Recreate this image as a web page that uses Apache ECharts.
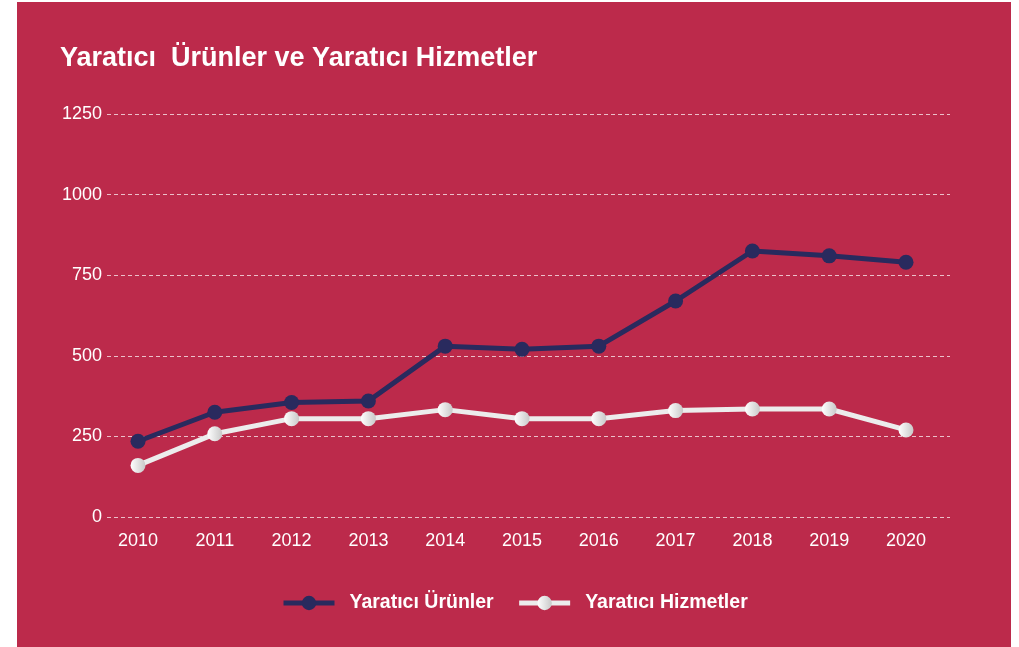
<!DOCTYPE html>
<html>
<head>
<meta charset="utf-8">
<script src="https://cdn.jsdelivr.net/npm/echarts@6/dist/echarts.min.js"></script>
<style>
  html, body { margin: 0; padding: 0; background: #fff; }
  .panel { position: absolute; left: 17px; top: 2px; width: 994px; height: 645px; background: #bc2a4b; }
  #chart { position: absolute; left: 0; top: 0; width: 1019px; height: 647px; }
</style>
</head>
<body>
<div class="panel"></div>
<div id="chart"></div>
<script>
const years = ["2010", "2011", "2012", "2013", "2014", "2015", "2016", "2017", "2018", "2019", "2020"];
const urunler = [235, 325, 355, 360, 530, 520, 530, 670, 825, 810, 790];
const hizmetler = [160, 258, 305, 305, 333, 305, 305, 330, 335, 335, 270];
const yTicks = { min: 0, max: 1250, interval: 250 };

const darkBlue = "#292a5e";
const whiteGrad = {
  type: "linear", x: 0, y: 0, x2: 1, y2: 0,
  colorStops: [
    { offset: 0, color: "#ffffff" },
    { offset: 1, color: "#c8c8c8" },
  ],
};
const font = "'Liberation Sans', Arial, sans-serif";

const chart = echarts.init(document.getElementById("chart"));

chart.setOption({
  backgroundColor: "transparent",
  textStyle: { fontFamily: font },
  title: {
    text: "Yaratıcı  Ürünler ve Yaratıcı Hizmetler",
    left: 55,
    top: 40,
    textStyle: { color: "#fff", fontSize: 27, fontWeight: "bold", fontFamily: font },
  },
  legend: {
    left: 276,
    top: 588,
    itemWidth: 51,
    itemHeight: 18,
    itemGap: 23,
    lineStyle: { width: 5 },
    textStyle: { color: "#fff", fontSize: 19.5, fontWeight: "bold", fontFamily: font, padding: [0, 0, 0, 10] },
    data: ["Yaratıcı Ürünler", "Yaratıcı Hizmetler"],
  },
  grid: [
    // wide grid: only for the y labels and dashed lines
    { left: 107, right: 69, top: 114, bottom: 130 },
    // inner grid: the plotted points
    { left: 138, right: 113, top: 114, bottom: 130 },
  ],
  xAxis: [
    { gridIndex: 0, type: "value", show: false, min: 0, max: 1 },
    {
      gridIndex: 1,
      type: "category",
      boundaryGap: false,
      data: years,
      axisLine: { show: false },
      axisTick: { show: false },
      axisLabel: { color: "#fff", fontSize: 18, margin: 15, fontFamily: font },
    },
  ],
  yAxis: [
    {
      gridIndex: 0,
      type: "value",
      min: yTicks.min,
      max: yTicks.max,
      interval: yTicks.interval,
      axisLine: { show: false },
      axisTick: { show: false },
      axisLabel: { color: "#fff", fontSize: 18, margin: 5, fontFamily: font, formatter: (v) => String(v) },
      splitLine: { lineStyle: { color: "rgba(255,255,255,0.7)", type: [4, 3], width: 1 } },
    },
    {
      gridIndex: 1,
      type: "value",
      min: yTicks.min,
      max: yTicks.max,
      interval: yTicks.interval,
      show: false,
      splitLine: { show: false },
    },
  ],
  series: [
    {
      name: "Yaratıcı Ürünler",
      type: "line",
      xAxisIndex: 1,
      yAxisIndex: 1,
      data: urunler,
      symbol: "circle",
      symbolSize: 15,
      lineStyle: { color: darkBlue, width: 5 },
      itemStyle: { color: darkBlue },
      z: 3,
    },
    {
      name: "Yaratıcı Hizmetler",
      type: "line",
      xAxisIndex: 1,
      yAxisIndex: 1,
      data: hizmetler,
      symbol: "circle",
      symbolSize: 15,
      lineStyle: { color: "#ececec", width: 5 },
      itemStyle: { color: whiteGrad },
      z: 2,
    },
  ],
});
</script>
</body>
</html>
